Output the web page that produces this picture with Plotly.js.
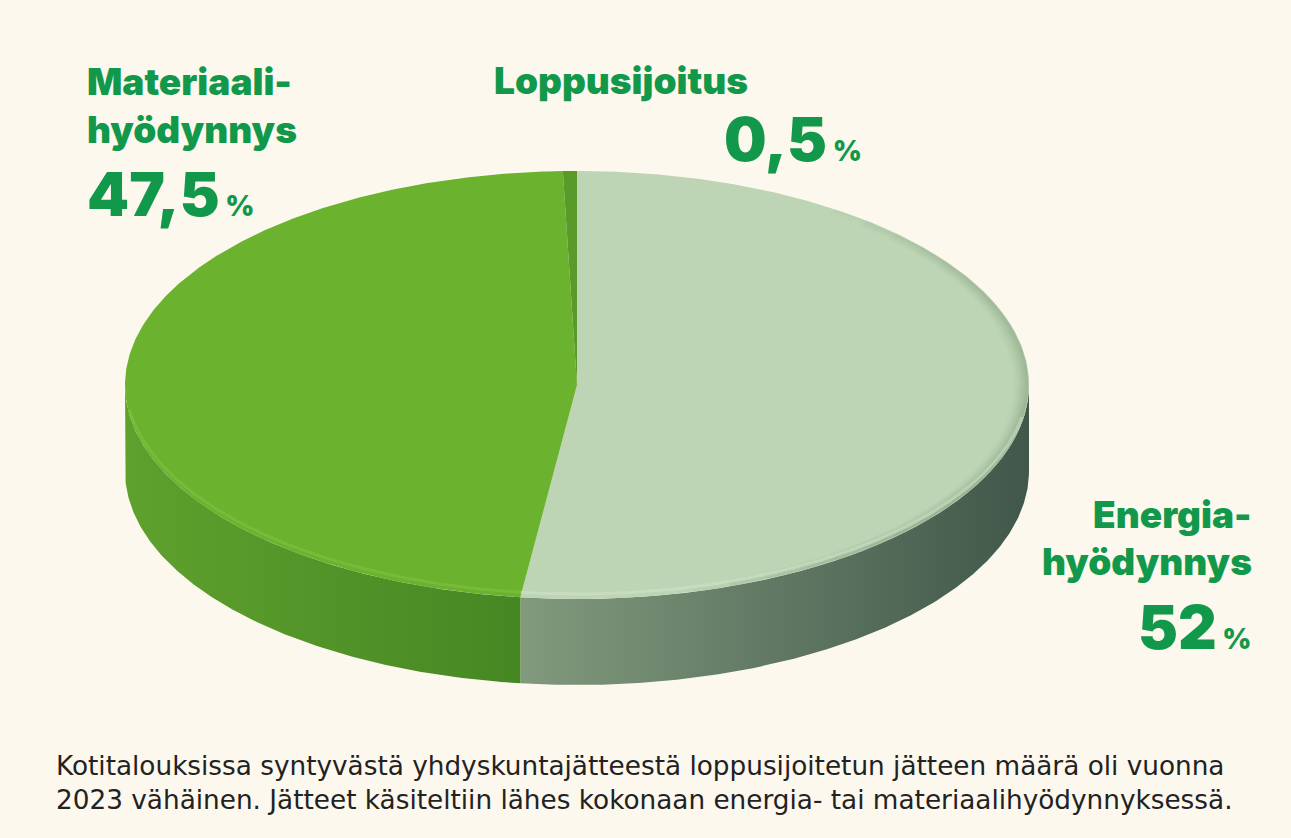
<!DOCTYPE html>
<html>
<head>
<meta charset="utf-8">
<script src="https://cdn.plot.ly/plotly-3.0.1.min.js"></script>
<style>html,body{margin:0;padding:0;background:#fcf8ee;}#chart{width:1291px;height:838px;}</style>
</head>
<body>
<div id="chart"></div>
<script>
// ---- data ----
const categories = ['Energia-<br>hyödynnys', 'Materiaali-<br>hyödynnys', 'Loppusijoitus'];
const values = [52, 47.5, 0.5];
const captionLines = [
  'Kotitalouksissa syntyvästä yhdyskuntajätteestä loppusijoitetun jätteen määrä oli vuonna',
  '2023 vähäinen. Jätteet käsiteltiin lähes kokonaan energia- tai materiaalihyödynnyksessä.'
];

// ---- style / geometry ----
const topColors = ['#bdd5b5', '#6bb22e', '#5a9a28'];
const sideColors = [['#819a7d', '#40574a'], ['#5fa12d', '#468724'], ['#4f8a22', '#4f8a22']];
const rimColors = ['#d3e4cc', '#86c447', '#7ab53c'];
const G = {cx: 577, cy: 385, rx: 452, ry: 214, depth: 86};
const labelPos = [
  {x: 1254, y: [514, 561], vy: 627, anchor: 'right'},
  {x: 85, y: [81, 129], vy: 194, anchor: 'left'},
  {x: 492, y: [80], vy: 139, anchor: 'left', vx: 722}
];
const GREEN = '#12984a';

function pt(deg, dy, inset) {
  const r = deg * Math.PI / 180, k = inset || 0;
  return [G.cx + (G.rx - k) * Math.sin(r), G.cy - (G.ry - k * G.ry / G.rx) * Math.cos(r) + (dy || 0)];
}
function arc(a0, a1, dy, inset) {
  const n = Math.max(2, Math.ceil(Math.abs(a1 - a0) / 0.5));
  const xs = [], ys = [];
  for (let i = 0; i <= n; i++) {
    const p = pt(a0 + (a1 - a0) * i / n, dy, inset);
    xs.push(p[0]); ys.push(p[1]);
  }
  return [xs, ys];
}

const total = values.reduce((a, b) => a + b, 0);
const angles = [];
let acc = 0;
values.forEach(v => { const a0 = acc / total * 360; acc += v; angles.push([a0, acc / total * 360]); });

const traces = [];
// side walls (front half: 90..270 deg)
angles.forEach(([a0, a1], i) => {
  const s = Math.max(a0, 90), e = Math.min(a1, 270);
  if (e <= s) return;
  const [tx, ty] = arc(s, e, 0);
  const [bx, by] = arc(e, s, G.depth);
  const xs = tx.concat(bx), ys = ty.concat(by);
  const xmin = Math.min(...xs), xmax = Math.max(...xs);
  traces.push({
    type: 'scatter', mode: 'lines', x: xs, y: ys, fill: 'toself',
    line: {width: 0, color: sideColors[i][1]},
    fillcolor: sideColors[i][1],
    fillgradient: {type: 'horizontal', start: xmin, stop: xmax,
      colorscale: [[0, sideColors[i][0]], [1, sideColors[i][1]]]},
    hoverinfo: 'skip'
  });
});
// top faces
angles.forEach(([a0, a1], i) => {
  const [ax, ay] = arc(a0, a1, 0);
  traces.push({
    type: 'scatter', mode: 'lines',
    x: [G.cx].concat(ax, [G.cx]), y: [G.cy].concat(ay, [G.cy]),
    fill: 'toself', fillcolor: topColors[i], line: {width: 0, color: topColors[i]},
    name: categories[i].replace('<br>', ''), text: values[i] + ' %', hoverinfo: 'name+text'
  });
});
// soft shading along the right edge of the light face (tapered at both ends)
{
  const s = Math.max(angles[0][0] + 35, 35), e = Math.min(angles[0][1], 165);
  const segs = 26, rings = 16;
  for (let r = 0; r < rings; r++) {
    const k = 1 + r * 1;
    const op = 0.2 * Math.pow(1 - r / rings, 1.6);
    for (let j = 0; j < segs; j++) {
      const b0 = s + (e - s) * j / segs, b1 = s + (e - s) * (j + 1) / segs;
      const env = Math.sin(Math.PI * (j + 0.5) / segs);
      const [tx, ty] = arc(b0, b1, 0, k);
      traces.push({type: 'scatter', mode: 'lines', x: tx, y: ty,
        line: {width: 2, color: '#5d7a5a'}, opacity: op * env, hoverinfo: 'skip'});
    }
  }
}
// rim highlight on front edge
angles.forEach(([a0, a1], i) => {
  const s = Math.max(a0, 100), e = Math.min(a1, 262);
  if (e <= s) return;
  const [tx, ty] = arc(s, e, -5);
  traces.push({type: 'scatter', mode: 'lines', x: tx, y: ty,
    line: {width: 3, color: rimColors[i]}, opacity: 0.5, hoverinfo: 'skip'});
});

const fmt = v => String(v).replace('.', ',');
const LFONT = 'Inter, Lato, sans-serif';
const annotations = [];
categories.forEach((c, i) => {
  const p = labelPos[i];
  c.split('<br>').forEach((ln, j) => {
    annotations.push({x: p.x, y: p.y[j], xref: 'x', yref: 'y', text: ln, showarrow: false,
      xanchor: p.anchor, yanchor: 'middle',
      font: {family: LFONT, size: 37, weight: 900, color: GREEN}});
  });
  annotations.push({x: p.vx || p.x, y: p.vy, xref: 'x', yref: 'y',
    text: fmt(values[i]) + '<span style="font-size:28px"> %</span>', showarrow: false,
    xanchor: p.anchor, yanchor: 'middle',
    font: {family: LFONT, size: 60, weight: 900, color: GREEN}});
});
captionLines.forEach((t, j) => {
  annotations.push({x: 54, y: 766 + j * 34, xref: 'x', yref: 'y', text: t, showarrow: false,
    xanchor: 'left', yanchor: 'middle', align: 'left',
    font: {family: '"DejaVu Sans", sans-serif', size: 26.3, color: '#222222'}});
});

const layout = {
  width: 1291, height: 838,
  margin: {l: 0, r: 0, t: 0, b: 0},
  paper_bgcolor: '#fcf8ee', plot_bgcolor: '#fcf8ee',
  showlegend: false,
  xaxis: {range: [0, 1291], visible: false, fixedrange: true},
  yaxis: {range: [838, 0], visible: false, fixedrange: true},
  annotations: annotations
};
Plotly.newPlot('chart', traces, layout, {displayModeBar: false, staticPlot: true});
</script>
</body>
</html>
